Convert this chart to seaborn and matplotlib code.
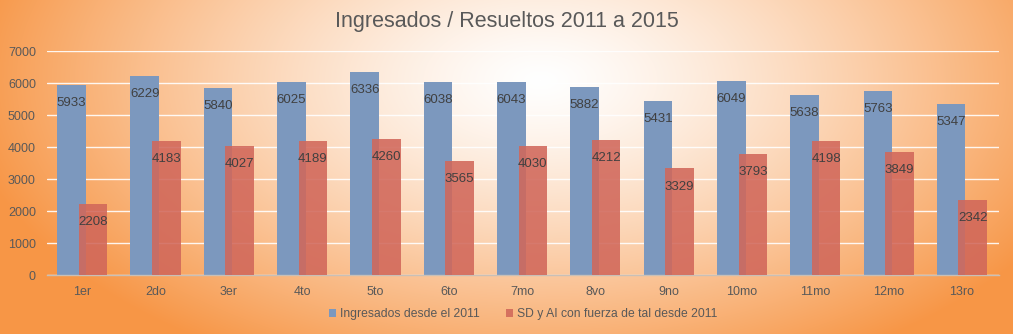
import numpy as np
import pandas as pd
import matplotlib
matplotlib.use("Agg")
import matplotlib.pyplot as plt
import seaborn as sns

categories = ["1er", "2do", "3er", "4to", "5to", "6to", "7mo", "8vo", "9no", "10mo", "11mo", "12mo", "13ro"]
ingresados = [5933, 6229, 5840, 6025, 6336, 6038, 6043, 5882, 5431, 6049, 5638, 5763, 5347]
resueltos = [2208, 4183, 4027, 4189, 4260, 3565, 4030, 4212, 3329, 3793, 4198, 3849, 2342]
series_names = ["Ingresados desde el 2011", "SD y AI con fuerza de tal desde 2011"]
title = "Ingresados / Resueltos 2011 a 2015"

sns.set_theme(style="white")
plt.rcParams['font.family'] = ['Liberation Sans', 'DejaVu Sans']

W, H = 1013, 334
fig = plt.figure(figsize=(W / 100, H / 100), dpi=100)

# radial gradient background
bg = fig.add_axes([0, 0, 1, 1], zorder=-10)
yy, xx = np.mgrid[0:H, 0:W]
cx, cy = 540, 80
d = np.sqrt(((xx - cx) / 580.0) ** 2 + ((yy - cy) / 320.0) ** 2)
t = np.clip(d, 0, 1) ** 1.3
white = np.array([1.0, 1.0, 1.0])
orange = np.array([247, 150, 70]) / 255.0
img = white[None, None, :] * (1 - t[..., None]) + orange[None, None, :] * t[..., None]
bg.imshow(img, aspect="auto", extent=[0, W, H, 0])
bg.set_axis_off()

ax = fig.add_axes([47 / W, 1 - 275 / H, (999 - 47) / W, (275 - 51) / H])
ax.patch.set_alpha(0)

idx = np.arange(len(categories))
off = 0.147
df_a = pd.DataFrame({"x": idx - off, "v": ingresados})
df_b = pd.DataFrame({"x": idx + off, "v": resueltos})

blue = "#7c98be"
red = "#d1675a"
sns.barplot(data=df_a, x="x", y="v", native_scale=True, width=0.39, color=blue,
            saturation=1, ax=ax, label=series_names[0], zorder=2, linewidth=0)
sns.barplot(data=df_b, x="x", y="v", native_scale=True, width=0.39, color=red,
            saturation=1, alpha=0.88, ax=ax, label=series_names[1], zorder=3, linewidth=0)

for x, v in zip(idx - off, ingresados):
    ax.annotate(f"{v}", (x, v), xytext=(0, -13), textcoords="offset points",
                ha="center", va="center", fontsize=9.5, color="#404040", zorder=5)
for x, v in zip(idx + off, resueltos):
    ax.annotate(f"{v}", (x, v), xytext=(0, -13), textcoords="offset points",
                ha="center", va="center", fontsize=9.5, color="#404040", zorder=5)

ax.set_ylim(0, 7000)
ax.set_xlim(-0.48, len(categories) - 0.495)
ax.set_yticks(np.arange(0, 7001, 1000))
ax.set_xticks(idx)
ax.set_xticklabels(categories)
ax.tick_params(axis="both", length=0, labelsize=9, labelcolor="#595959")
ax.tick_params(axis="y", pad=8)
ax.tick_params(axis="x", pad=8)
ax.yaxis.grid(True, color="white", linewidth=1.0, alpha=0.9, zorder=1)
ax.set_axisbelow(True)
for s in ["top", "right", "left"]:
    ax.spines[s].set_visible(False)
ax.spines["bottom"].set_color("#c8c0b8")
ax.spines["bottom"].set_linewidth(1)
ax.set_xlabel("")
ax.set_ylabel("")

fig.text(0.5, 1 - 22 / H, title, ha="center", va="center", fontsize=15.5,
         color="#595959")

leg = ax.legend(loc="center", bbox_to_anchor=(0.5, (275 - 314) / (275 - 51)),
                ncol=2, frameon=False, fontsize=8.7, handlelength=0.6, handleheight=0.6,
                handletextpad=0.3, columnspacing=2.2, labelcolor="#595959")

fig.savefig("out.png", dpi=100)
